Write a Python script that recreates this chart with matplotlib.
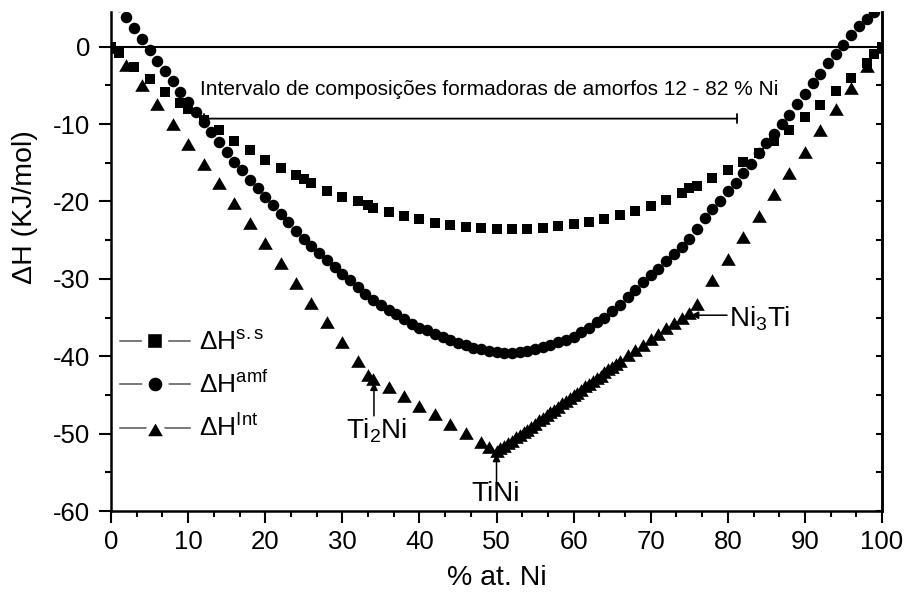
import matplotlib

matplotlib.use("Agg")
import matplotlib.pyplot as plt
from matplotlib.lines import Line2D
from matplotlib.ticker import MultipleLocator, AutoMinorLocator

plt.rcParams["font.family"] = ["Liberation Sans", "DejaVu Sans"]
plt.rcParams["mathtext.fontset"] = "custom"
plt.rcParams["mathtext.rm"] = "Liberation Sans"
plt.rcParams["mathtext.it"] = "Liberation Sans:italic"
plt.rcParams["axes.unicode_minus"] = False

# solid solution (squares)
x_ss = [0, 1, 3, 5, 7, 9, 10, 12, 14, 16, 18, 20, 22, 24, 25, 26, 28, 30, 32, 33.3,
        34, 36, 38, 40, 42, 44, 46, 48, 50, 52, 54, 56, 58, 60, 62, 64, 66, 68, 70,
        72, 74, 75, 76, 78, 80, 82, 84, 86, 88, 90, 92, 94, 96, 98, 99, 100]
h_ss = [0.0, -0.8, -2.6, -4.2, -5.8, -7.3, -8.0, -9.5, -10.8, -12.2, -13.4, -14.7,
        -15.7, -16.6, -17.1, -17.6, -18.6, -19.4, -20.0, -20.5, -20.8, -21.4, -21.9,
        -22.3, -22.8, -23.1, -23.3, -23.4, -23.5, -23.5, -23.5, -23.4, -23.2, -22.9,
        -22.7, -22.3, -21.8, -21.2, -20.6, -19.8, -18.9, -18.3, -18.0, -17.0, -16.0,
        -14.9, -13.7, -12.2, -10.8, -9.1, -7.5, -5.7, -4.0, -2.1, -0.9, 0.0]

# amorphous phase (circles)
x_amf = list(range(1, 100))
h_amf = [5.2, 3.8, 2.4, 1.0, -0.4, -1.8, -3.1, -4.5, -5.8, -7.1,
         -8.4, -9.7, -11.0, -12.3, -13.6, -14.9, -16.0, -17.2, -18.3, -19.4,
         -20.5, -21.6, -22.7, -23.8, -24.8, -25.8, -26.7, -27.6, -28.5, -29.4,
         -30.2, -31.1, -31.9, -32.7, -33.4, -34.0, -34.6, -35.2, -35.8, -36.3,
         -36.6, -37.1, -37.5, -37.9, -38.3, -38.6, -38.9, -39.1, -39.3, -39.5,
         -39.6, -39.6, -39.5, -39.3, -39.1, -38.8, -38.6, -38.2, -37.9, -37.5,
         -36.9, -36.3, -35.6, -35.0, -34.2, -33.4, -32.4, -31.5, -30.4, -29.5,
         -28.7, -27.7, -26.8, -25.9, -24.8, -23.5, -22.2, -21.0, -19.9, -18.7,
         -17.6, -16.3, -15.1, -13.8, -12.5, -11.3, -10.0, -8.8, -7.4, -6.1,
         -4.7, -3.5, -2.1, -0.9, 0.2, 1.5, 2.7, 3.6, 4.5]

# intermetallic compounds (triangles)
x_int = [0, 2, 4, 6, 8, 10, 12, 14, 16, 18, 20, 22, 24, 26, 28, 30, 32, 33.3, 34,
         36, 38, 40, 42, 44, 46, 48, 49, 50,
         50.5, 51, 51.5, 52, 52.5, 53, 53.5, 54, 54.5, 55, 55.5, 56, 56.5, 57, 57.5,
         58, 58.5, 59, 59.5, 60, 60.5, 61, 61.5, 62, 62.5, 63, 63.5, 64, 64.5, 65,
         65.5, 66, 67, 68, 69, 70, 71, 72, 73, 74, 75, 76,
         78, 80, 82, 84, 86, 88, 90, 92, 94, 96, 98, 100]
h_int = [0.0, -2.4, -4.9, -7.4, -10.0, -12.6, -15.1, -17.6, -20.2, -22.8, -25.4,
         -28.0, -30.5, -33.1, -35.6, -38.1, -40.6, -42.4, -42.9, -44.0, -45.2, -46.4,
         -47.5, -48.7, -49.9, -51.1, -51.7, -52.3,
         -51.9, -51.6, -51.2, -50.9, -50.5, -50.2, -49.8, -49.5, -49.1, -48.7, -48.3,
         -48.0, -47.6, -47.2, -46.9, -46.5, -46.1, -45.8, -45.4, -45.0, -44.7, -44.3,
         -43.9, -43.6, -43.2, -42.8, -42.5, -42.1, -41.7, -41.4, -41.0, -40.6, -39.9,
         -39.2, -38.5, -37.8, -37.1, -36.4, -35.7, -35.0, -34.4, -33.3,
         -30.2, -27.4, -24.6, -21.9, -19.0, -16.3, -13.6, -10.8, -8.0, -5.4, -2.5, 0.0]

GLASS_RANGE = (12, 81.2)
GLASS_LEVEL = -9.3
GLASS_TEXT = "Intervalo de composições formadoras de amorfos 12 - 82 % Ni"

labels = ["ΔH$^{\\mathrm{s.s}}$", "ΔH$^{\\mathrm{amf}}$", "ΔH$^{\\mathrm{Int}}$"]

# equilateral triangle like Origin's
TRI = [(0, 0.866), (-1, -0.866), (1, -0.866), (0, 0.866)]

fig = plt.figure(figsize=(9.05, 5.92), dpi=100)
ax = fig.add_axes([0.1227, 0.1368, 0.8519, 0.843])

ax.axhline(0, color="k", lw=1.5, zorder=1)
ax.plot(x_ss, h_ss, "s", color="k", ms=7.4, mew=0, zorder=3)
ax.plot(x_amf, h_amf, "o", color="k", ms=8.3, mew=0, zorder=4)
ax.plot(x_int, h_int, marker=TRI, ls="none", color="k", ms=10.5, mew=0, zorder=3)

# glass forming range bar
ax.annotate("", xy=(GLASS_RANGE[1], GLASS_LEVEL), xytext=(GLASS_RANGE[0], GLASS_LEVEL),
            arrowprops=dict(arrowstyle="|-|", lw=1.3, color="k", mutation_scale=3,
                            shrinkA=0, shrinkB=0), zorder=2)
ax.text(11.5, -5.5, GLASS_TEXT, fontsize=15, va="center", ha="left")

# compound markers
arrow = dict(arrowstyle="-|>", lw=1.1, color="k", mutation_scale=11, shrinkA=0, shrinkB=0)
ax.annotate("", xy=(34.1, -43.4), xytext=(34.1, -47.7), arrowprops=arrow)
ax.text(34.4, -49.6, "Ti$_2$Ni", fontsize=20, ha="center", va="center")
ax.annotate("", xy=(50.0, -52.6), xytext=(50.0, -57.4), arrowprops=arrow)
ax.text(49.9, -57.8, "TiNi", fontsize=20, ha="center", va="center")
ax.annotate("", xy=(75.2, -34.7), xytext=(79.9, -34.7), arrowprops=arrow)
ax.text(80.2, -35.2, "Ni$_3$Ti", fontsize=20, ha="left", va="center")

ax.set_xlim(0, 100)
ax.set_ylim(-60, 4.48)
ax.xaxis.set_major_locator(MultipleLocator(10))
ax.xaxis.set_minor_locator(AutoMinorLocator(3))
ax.yaxis.set_major_locator(MultipleLocator(10))
ax.yaxis.set_minor_locator(MultipleLocator(5))
ax.tick_params(which="both", direction="out", width=1.5, labelsize=18.5)
ax.tick_params(which="major", length=8.4)
ax.tick_params(which="minor", length=4.6)
ax.tick_params(axis="y", pad=6.5)
ax.tick_params(axis="x", pad=5)
for s in ("left", "bottom", "right"):
    ax.spines[s].set_linewidth(1.8)
ax.spines["top"].set_visible(False)

# right axis: inward ticks, no labels
ax2 = ax.twinx()
ax2.set_ylim(ax.get_ylim())
ax2.yaxis.set_major_locator(MultipleLocator(5))
ax2.tick_params(axis="y", direction="in", length=4.5, width=1.5, labelright=False)
for s in ("left", "bottom", "top"):
    ax2.spines[s].set_visible(False)
ax2.spines["right"].set_linewidth(1.8)

ax.set_xlabel("% at. Ni", fontsize=20.5)
ax.set_ylabel("ΔH (KJ/mol)", fontsize=20.5)
ax.xaxis.set_label_coords(0.5, -0.108)
ax.yaxis.set_label_coords(-0.095, 0.608)

handles = []
for mk, ms, mew in (("s", 14.0, 4.6), ("o", 14.4, 4.6), (TRI, 17.5, 4.0)):
    handles.append(Line2D([], [], color="#555555", lw=1.1, marker=mk, ms=ms,
                          mfc="k", mec="white", mew=mew))
leg = ax.legend(handles, labels, loc="upper left", bbox_to_anchor=(0.0117, 0.361),
                frameon=False, fontsize=19, handlelength=2.65, handletextpad=0.34,
                labelspacing=0.62, borderpad=0, borderaxespad=0, numpoints=1)
leg.set_zorder(5)

fig.savefig("out.png", dpi=100)
